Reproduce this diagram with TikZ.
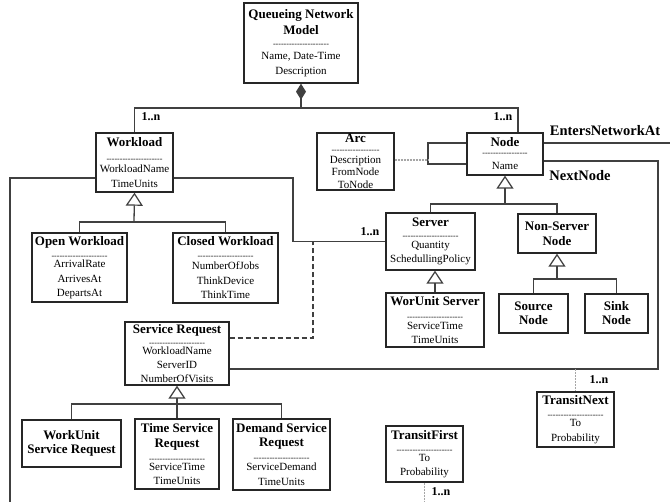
\documentclass[tikz,border=0pt]{standalone}
\usepackage{fontspec}
\setmainfont{Liberation Serif}
\usetikzlibrary{arrows.meta}
\newcommand\ttl[1]{{\fontsize{13}{14.5}\selectfont\bfseries #1}}
\newcount\sepcnt
\newcommand\sepl[1][21]{{\fontsize{8}{8}\selectfont\sepcnt=#1\relax\loop -\kern0pt\advance\sepcnt by -1\relax\ifnum\sepcnt>0 \repeat}}
\begin{document}
\begin{tikzpicture}[x=1pt,y=-1pt,
  box/.style={draw=black!85, line width=1.4pt, inner sep=0pt, align=center, font=\fontsize{11}{14.5}\selectfont},
  ln/.style={draw=black!75, line width=1.3pt},
  gen/.style={ln, -{Triangle[open, length=13pt, width=17pt, line width=1.2pt]}},
  comp/.style={ln, {Diamond[length=16pt, width=10pt]}-},
  assoc/.style={ln, dash pattern=on 5pt off 3pt},
  dotl/.style={draw=black!35, line width=1.4pt, dash pattern=on 2pt off 1pt},
  lbl/.style={font=\fontsize{12}{12}\selectfont\bfseries, inner sep=0pt},
  big/.style={font=\fontsize{14.5}{14.5}\selectfont\bfseries, inner sep=0pt}]
\useasboundingbox[fill=white] (0,0) rectangle (670,502);

% boxes
\node[box, minimum width=114pt, minimum height=80pt] (qnm) at (301,43)
  {\ttl{Queueing Network}\\[1.5pt]\ttl{Model}\\[-2pt]\sepl\\[-2pt]Name, Date-Time\\[0.5pt]Description};
\node[box, minimum width=77pt, minimum height=59pt] (wl) at (134.5,162.5)
  {\ttl{Workload}\\[0.5pt]\sepl\\[-3.5pt]WorkloadName\\TimeUnits};
\node[box, minimum width=77pt, minimum height=57pt] (arc) at (355.5,161.5)
  {\ttl{Arc}\\[-5pt]\sepl[18]\\[-3.5pt]Description\\[-2pt]FromNode\\[-2pt]ToNode};
\node[box, minimum width=76pt, minimum height=42pt] (nd) at (505,154)
  {\ttl{Node}\\[-5.5pt]\sepl[17]\\[-0.5pt]Name};
\node[box, minimum width=95pt, minimum height=69pt] (owl) at (79.5,267.5)
  {\ttl{Open Workload}\\[-1.5pt]\sepl\\[-5pt]ArrivalRate\\ArrivesAt\\DepartsAt};
\node[box, minimum width=105pt, minimum height=70pt] (cwl) at (225.5,268)
  {\ttl{Closed Workload}\\[-1.5pt]\sepl\\[-3.5pt]NumberOfJobs\\ThinkDevice\\ThinkTime};
\node[box, minimum width=89pt, minimum height=57pt] (srv) at (430.5,241.5)
  {\ttl{Server}\\[-2.5pt]\sepl\\[-4.5pt]Quantity\\[-0.5pt]SchedullingPolicy};
\node[box, minimum width=98pt, minimum height=54pt] (wus) at (435,320)
  {\ttl{WorUnit Server}\\[-0.5pt]\sepl\\[-5pt]ServiceTime\\[-0.5pt]TimeUnits};
\node[box, minimum width=78pt, minimum height=39pt] (nsn) at (557,233.5)
  {\ttl{Non-Server}\\[0.5pt]\ttl{Node}};
\node[box, minimum width=69pt, minimum height=39pt] (src) at (533.5,313.5)
  {\ttl{Source}\\[-0.5pt]\ttl{Node}};
\node[box, minimum width=63pt, minimum height=39pt] (snk) at (616.5,313.5)
  {\ttl{Sink}\\[-0.5pt]\ttl{Node}};
\node[box, minimum width=104pt, minimum height=63pt] (sr) at (177,353.5)
  {\ttl{Service Request}\\[-2.5pt]\sepl\\[-5pt]WorkloadName\\[-0.5pt]ServerID\\[-0.5pt]NumberOfVisits};
\node[box, minimum width=99pt, minimum height=47pt] (wsr) at (71.5,443.5)
  {\ttl{WorkUnit}\\[-0.5pt]\ttl{Service Request}};
\node[box, minimum width=84pt, minimum height=70pt] (tsr) at (177,454)
  {\ttl{Time Service}\\[0.5pt]\ttl{Request}\\[-0.5pt]\sepl\\[-5pt]ServiceTime\\[-0.5pt]TimeUnits};
\node[box, minimum width=97pt, minimum height=71pt] (dsr) at (281.5,454.5)
  {\ttl{Demand Service}\\[-0.5pt]\ttl{Request}\\[-0.5pt]\sepl\\[-5pt]ServiceDemand\\[0.5pt]TimeUnits};
\node[box, minimum width=77pt, minimum height=55pt] (tn) at (575.5,419.5)
  {\ttl{TransitNext}\\[-1.5pt]\sepl\\[-5pt]To\\[0pt]Probability};
\node[box, minimum width=77pt, minimum height=56pt] (tf) at (424.5,454)
  {\ttl{TransitFirst}\\[-1.5pt]\sepl\\[-5pt]To\\[-0.5pt]Probability};

% coordinates
\coordinate (j0) at (301,108);
\coordinate (j1) at (518,108);
\coordinate (g1) at (134,222);
\coordinate (g2) at (505,204);
\coordinate (g3) at (557,279);
\coordinate (g4) at (177,404);
\coordinate (k1) at (293,178);
\coordinate (k2) at (313,241);
\coordinate (k3) at (0,338);
\coordinate (k4) at (10,502);
\coordinate (l1) at (428,143);
\coordinate (l2) at (428,164);
\coordinate (l3) at (428,160);
\coordinate (e1) at (670,143);
\coordinate (n1) at (658,161);
\coordinate (n2) at (658,369);
\coordinate (t1) at (425,502);

% composition
\draw[comp] (qnm.south) -- (j0);
\draw[ln] (wl.north) |- (j1) -- (j1 |- nd.north);
\node[lbl] (m1) at (151,117) {1..n};
\node[lbl] (m2) at (503,117) {1..n};

% generalizations
\draw[gen] (g1) -- (wl.south);
\draw[ln] (owl.north) |- (g1) -| (cwl.north);
\draw[gen] (g2) -- (nd.south);
\draw[ln] (srv.north) |- (g2) -| (nsn.north);
\draw[gen] (wus.north) -- (wus.north |- srv.south);
\draw[gen] (g3) -- (nsn.south);
\draw[ln] (src.north) |- (g3) -| (snk.north);
\draw[gen] (g4) -- (sr.south);
\draw[ln] (wsr.north) |- (g4) -| (dsr.north);
\draw[ln] (tsr.north) -- (g4);

% workload -- server association
\draw[ln] (wl.east |- k1) -- (k1) |- (srv.west);
\node[lbl] (m3) at (370,232) {1..n};
\draw[assoc] (sr.east |- k3) -| (k2);
\draw[ln] (wl.west |- k1) -| (k4);

% arc / node self-association
\draw[ln] (nd.west |- l1) -- (l1) -- (l2) -- (nd.west |- l2);
\draw[dotl] (arc.east |- l3) -- (l3);

% enters network at
\draw[ln] (nd.east |- e1) -- (e1);
\node[big] (lb1) at (605,131) {EntersNetworkAt};

% next node
\draw[ln] (nd.east |- n1) -- (n1) -- (n2) -- (sr.east |- n2);
\node[big] (lb2) at (580,176) {NextNode};
\draw[dotl] (tn.north |- n2) -- (tn.north);
\node[lbl] (m4) at (599,380) {1..n};

% transit first
\draw[dotl] (tf.south) -- (tf.south |- t1);
\node[lbl] (m5) at (441,492) {1..n};
\end{tikzpicture}
\end{document}
